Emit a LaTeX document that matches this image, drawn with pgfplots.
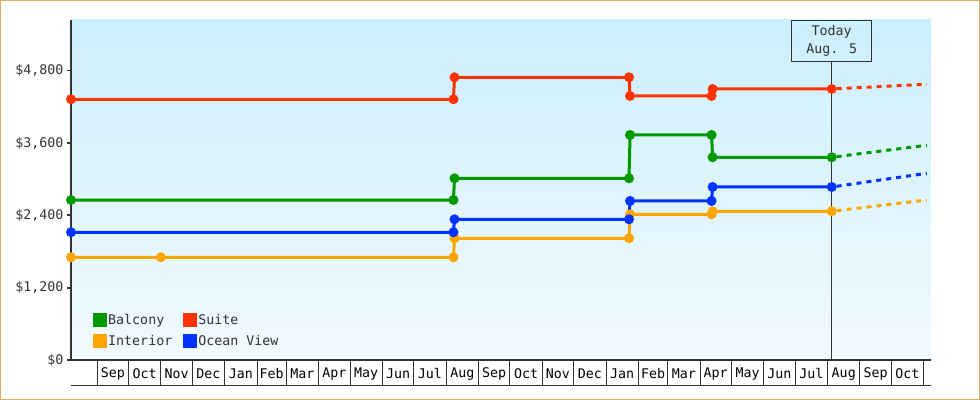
\documentclass[border=0pt]{standalone}
\usepackage{pgfplots}
\pgfplotsset{compat=1.18}
\usepackage{fontspec}
\setmainfont{DejaVu Sans Mono}

\definecolor{balcony}{HTML}{009900}
\definecolor{suite}{HTML}{FF3300}
\definecolor{interior}{HTML}{FFA500}
\definecolor{ocean}{HTML}{0033FF}
\definecolor{framec}{HTML}{E9A865}
\definecolor{axisgray}{HTML}{333333}
\definecolor{bgtop}{HTML}{CCEFFC}
\definecolor{bgbot}{HTML}{F2FAFF}

% x = days since Sep 1 of the first year
\begin{document}
\begin{tikzpicture}[font=\fontsize{13.3bp}{16bp}\selectfont]
\useasboundingbox (0,0) rectangle (980bp,400bp);
\draw[framec, line width=1bp] (0.5bp,0.5bp) rectangle (979.5bp,399.5bp);
\begin{axis}[
    at={(71bp,40bp)}, anchor=south west,
    scale only axis, width=860bp, height=340bp,
    xmin=-25, xmax=798, ymin=0, ymax=5640,
    clip=false,
    axis x line*=bottom, axis y line*=left,
    axis line style={axisgray, line width=1.7bp},
    axis background/.style={top color=bgtop, bottom color=bgbot},
    tick align=outside,
    major tick length=4bp,
    ytick={0,1200,2400,3600,4800},
    yticklabels={\$0,{\$1,200},{\$2,400},{\$3,600},{\$4,800}},
    ytick style={axisgray, line width=1.7bp},
    yticklabel style={text=axisgray},
    xtick={15,45.5,76,106.5,137.5,167,196.5,227,257.5,288,318.5,349.5,
           380,410.5,441,471.5,502.5,532,561.5,592,622.5,653,683.5,714.5,745,775.5},
    xticklabels={Sep,Oct,Nov,Dec,Jan,Feb,Mar,Apr,May,Jun,Jul,Aug,
                 Sep,Oct,Nov,Dec,Jan,Feb,Mar,Apr,May,Jun,Jul,Aug,Sep,Oct},
    major x tick style={draw=none},
    xticklabel style={anchor=center, yshift=-10bp, text=black},
    minor xtick={0,30,61,91,122,153,181,212,242,273,303,334,
                 365,395,426,456,487,518,546,577,607,638,668,699,730,760,791},
    minor tick length=25bp,
    minor x tick style={draw=axisgray, line width=1bp},
    legend columns=2,
    legend cell align=left,
    legend image code/.code={\fill (0bp,-5.5bp) rectangle (11bp,5.5bp);},
    legend style={at={(rel axis cs:0.0256,0.139)}, anchor=north west,
        draw=none, fill=none, inner sep=0pt, row sep=7bp,
        nodes={inner sep=1bp, text=axisgray},
        /tikz/every even column/.append style={column sep=10bp}},
    every axis plot/.append style={line width=3bp, mark=*, mark size=3.4bp},
]

\addplot[color=balcony] coordinates {
    (-25,2654) (341,2654) (342,3014) (509,3014) (510,3733) (588,3733) (589,3363) (703,3363)};
\addlegendentry{Balcony}
\addplot[color=suite] coordinates {
    (-25,4325) (341,4325) (342,4690) (509,4690) (510,4380) (588,4380) (589,4496) (703,4496)};
\addlegendentry{Suite}
\addplot[color=interior] coordinates {
    (-25,1704) (61,1704) (341,1704) (342,2019) (509,2019) (510,2417) (588,2417) (589,2467) (703,2467)};
\addlegendentry{Interior}
\addplot[color=ocean] coordinates {
    (-25,2119) (341,2119) (342,2334) (509,2334) (510,2638) (588,2638) (589,2870) (703,2870)};
\addlegendentry{Ocean View}

% forecast
\addplot[forget plot, color=balcony, no marks, dash pattern=on 5bp off 5bp, dash phase=5bp]
    coordinates {(703,3363) (794,3562)};
\addplot[forget plot, color=suite, no marks, dash pattern=on 5bp off 5bp, dash phase=5bp]
    coordinates {(703,4496) (794,4574)};
\addplot[forget plot, color=interior, no marks, dash pattern=on 5bp off 5bp, dash phase=5bp]
    coordinates {(703,2467) (794,2654)};
\addplot[forget plot, color=ocean, no marks, dash pattern=on 5bp off 5bp, dash phase=5bp]
    coordinates {(703,2870) (794,3097)};

% today marker
\node[draw=axisgray, line width=1bp, minimum width=80bp, minimum height=40.7bp,
      anchor=north, align=center, text=axisgray, font=\fontsize{13.3bp}{18bp}\selectfont]
    (today) at (axis cs:703,5640) {Today\\Aug. 5};
\draw[axisgray, line width=1bp] (axis cs:703,0) -- (today.south);

\draw[axisgray, line width=1bp] ([yshift=-25bp]rel axis cs:0,0) -- ([yshift=-25bp]rel axis cs:1,0);
\end{axis}
\end{tikzpicture}
\end{document}
